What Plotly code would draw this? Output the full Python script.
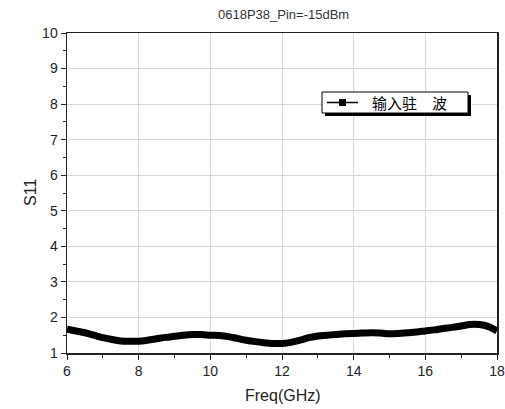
import plotly.graph_objects as go

freq = [6.0, 6.25, 6.5, 6.75, 7.0, 7.25, 7.5, 7.75, 8.0, 8.25, 8.5, 8.75, 9.0, 9.25, 9.5, 9.75,
        10.0, 10.25, 10.5, 10.75, 11.0, 11.25, 11.5, 11.75, 12.0, 12.25, 12.5, 12.75, 13.0,
        13.25, 13.5, 13.75, 14.0, 14.25, 14.5, 14.75, 15.0, 15.25, 15.5, 15.75, 16.0, 16.25,
        16.5, 16.75, 17.0, 17.25, 17.5, 17.75, 18.0]
s11 = [1.67, 1.62, 1.57, 1.50, 1.43, 1.38, 1.34, 1.33, 1.33, 1.36, 1.40, 1.44, 1.47, 1.50,
       1.52, 1.52, 1.50, 1.49, 1.46, 1.41, 1.36, 1.32, 1.29, 1.27, 1.27, 1.30, 1.36, 1.43,
       1.48, 1.50, 1.52, 1.54, 1.55, 1.56, 1.57, 1.56, 1.54, 1.55, 1.57, 1.59, 1.62, 1.65,
       1.69, 1.72, 1.76, 1.80, 1.80, 1.75, 1.62]

title = "0618P38_Pin=-15dBm"
series_name = "输入驻　波"
x_title = "Freq(GHz)"
y_title = "S11"
x_ticks = [6, 8, 10, 12, 14, 16, 18]
y_ticks = [1, 2, 3, 4, 5, 6, 7, 8, 9, 10]

W, H = 505, 409
L, R, T, B = 67, 8, 33, 56
PW, PH = W - L - R, H - T - B


def px(x):
    return (x - L) / PW


def py(y):
    return (H - B - y) / PH


fig = go.Figure()
fig.add_trace(go.Scatter(
    x=freq, y=s11, mode="lines", name=series_name,
    line=dict(color="black", width=7, shape="spline", smoothing=1.0),
    showlegend=False, hoverinfo="skip",
))

font = "Liberation Sans, Arial, Noto Sans CJK SC, sans-serif"
fig.update_layout(
    width=W, height=H,
    margin=dict(l=L, r=R, t=T, b=B, autoexpand=False),
    paper_bgcolor="white", plot_bgcolor="white",
    font=dict(family=font, color="#222", size=14),
    showlegend=False,
)
fig.update_xaxes(
    range=[6, 18], tickvals=x_ticks, ticktext=[str(v) for v in x_ticks],
    showgrid=True, gridcolor="#d8d8d8", gridwidth=1,
    showline=True, linecolor="#222", linewidth=1.5, mirror=True,
    ticks="outside", ticklen=5, tickcolor="#222",
    minor=dict(dtick=1, ticks="outside", ticklen=3, tickcolor="#222", showgrid=False),
    zeroline=False, automargin=False,
    tickfont=dict(size=14, color="#222"),
)
fig.update_yaxes(
    range=[1, 10], tickvals=y_ticks, ticktext=[str(v) for v in y_ticks],
    showgrid=True, gridcolor="#d8d8d8", gridwidth=1,
    showline=True, linecolor="#222", linewidth=1.5, mirror=True,
    ticks="outside", ticklen=5, tickcolor="#222",
    minor=dict(dtick=0.5, ticks="outside", ticklen=3, tickcolor="#222", showgrid=False),
    zeroline=False, automargin=False,
    tickfont=dict(size=14, color="#222"),
)

# titles
fig.add_annotation(text=title, xref="paper", yref="paper", x=px(283), y=py(14),
                   showarrow=False, xanchor="center", yanchor="middle",
                   font=dict(size=13, color="#333", family=font))
fig.add_annotation(text=x_title, xref="paper", yref="paper", x=px(283), y=py(395),
                   showarrow=False, xanchor="center", yanchor="middle",
                   font=dict(size=16, color="#222", family=font))
fig.add_annotation(text=y_title, xref="paper", yref="paper", x=px(30), y=py(193),
                   showarrow=False, xanchor="center", yanchor="middle", textangle=-90,
                   font=dict(size=16, color="#222", family=font))

# legend box (drawn manually) with shadow
fig.add_shape(type="rect", xref="paper", yref="paper",
              x0=px(325), x1=px(471), y0=py(116), y1=py(95),
              fillcolor="black", line=dict(width=0))
fig.add_shape(type="rect", xref="paper", yref="paper",
              x0=px(322), x1=px(468), y0=py(113), y1=py(92),
              fillcolor="white", line=dict(color="black", width=1))
fig.add_shape(type="line", xref="paper", yref="paper",
              x0=px(327), x1=px(358), y0=py(102.5), y1=py(102.5),
              line=dict(color="black", width=1.5))
fig.add_shape(type="rect", xref="paper", yref="paper",
              x0=px(339), x1=px(346), y0=py(106), y1=py(99),
              fillcolor="black", line=dict(width=0))
fig.add_annotation(text=series_name, xref="paper", yref="paper", x=px(370), y=py(102.5),
                   showarrow=False, xanchor="left", yanchor="middle",
                   font=dict(size=15, color="black", family="Noto Sans CJK SC, sans-serif"))

fig.write_html("out.html", config={"displayModeBar": False, "staticPlot": True},
               post_script="document.body.style.margin='0';document.body.style.overflow='hidden';")
